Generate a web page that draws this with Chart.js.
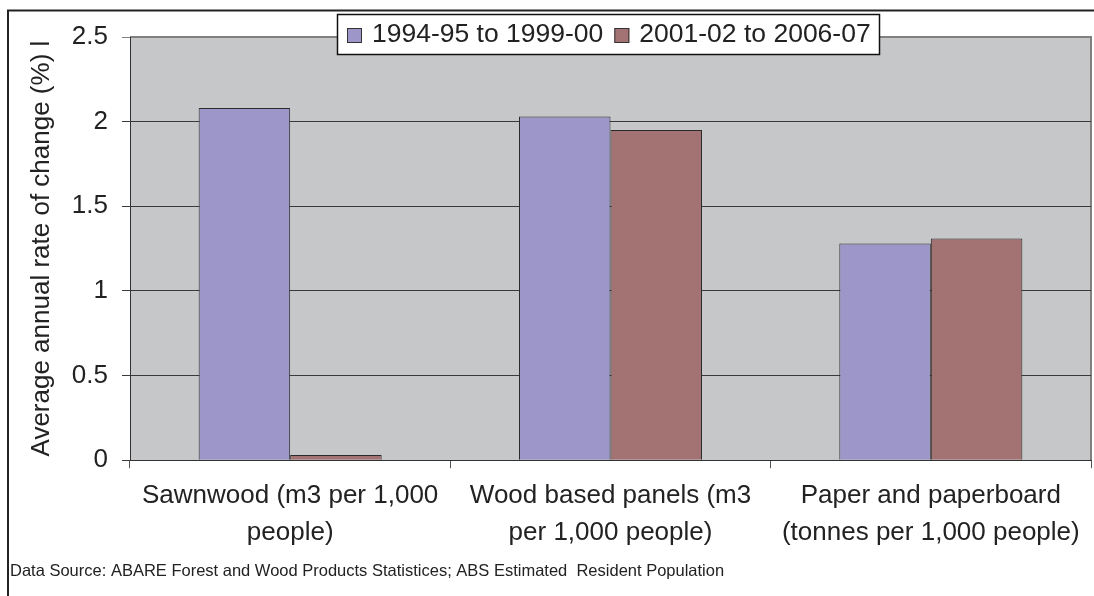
<!DOCTYPE html>
<html>
<head>
<meta charset="utf-8">
<script src="https://cdn.jsdelivr.net/npm/chart.js@4.4.1/dist/chart.umd.min.js"></script>
<style>
  html, body { margin: 0; padding: 0; background: #fff; overflow: hidden; }
  #wrap { width: 1094px; height: 596px; position: relative; }
</style>
</head>
<body>
<div id="wrap"><canvas id="woodChart"></canvas></div>
<script>
// categories (multi-line labels as drawn under the axis)
const categories = [
    ['Sawnwood (m3 per 1,000', 'people)'],
    ['Wood based panels (m3', 'per 1,000 people)'],
    ['Paper and paperboard', '(tonnes per 1,000 people)']
];
const seriesNames = ['1994-95 to 1999-00', '2001-02 to 2006-07'];
const period1 = [2.08, 2.03, 1.28];
const period2 = [0.03, 1.95, 1.31];
const yTicks = [0, 0.5, 1, 1.5, 2, 2.5];

const FONT = 'Arial, "Liberation Sans", sans-serif';

// grey plot area + outer frame
const backdrop = {
    id: 'backdrop',
    beforeDraw(chart) {
        const { ctx, chartArea: a } = chart;
        ctx.save();
        ctx.fillStyle = '#fff';
        ctx.fillRect(0, 0, chart.width, chart.height);
        ctx.strokeStyle = '#222';
        ctx.lineWidth = 2;
        ctx.strokeRect(8, 10.5, 2000, 2000);
        ctx.fillStyle = '#c6c7c9';
        ctx.fillRect(a.left, a.top, a.right - a.left, a.bottom - a.top);
        ctx.strokeStyle = '#808080';
        ctx.lineWidth = 2;
        ctx.beginPath();
        ctx.moveTo(a.left, a.top);
        ctx.lineTo(a.right, a.top);
        ctx.lineTo(a.right, a.bottom);
        ctx.stroke();
        ctx.restore();
    }
};

// boxed legend floating over the top of the plot
const boxLegend = {
    id: 'boxLegend',
    afterDraw(chart) {
        const ctx = chart.ctx;
        const boxL = 337, boxT = 14, boxR = 879, boxB = 54;
        ctx.save();
        ctx.fillStyle = '#fff';
        ctx.fillRect(boxL, boxT, boxR - boxL, boxB - boxT);
        ctx.strokeStyle = '#111';
        ctx.lineWidth = 1.5;
        ctx.strokeRect(boxL + 0.5, boxT + 0.5, boxR - boxL, boxB - boxT);
        ctx.font = '26.5px ' + FONT;
        ctx.textBaseline = 'middle';
        let x = boxL + 10;
        const midY = (boxT + boxB) / 2 + 1;
        chart.data.datasets.forEach(ds => {
            ctx.fillStyle = ds.backgroundColor;
            ctx.fillRect(x, midY - 7, 15, 15);
            ctx.strokeStyle = '#333';
            ctx.lineWidth = 1;
            ctx.strokeRect(x + 0.5, midY - 6.5, 14, 14);
            ctx.fillStyle = '#222';
            ctx.fillText(ds.label, x + 25, midY);
            x += 25 + ctx.measureText(ds.label).width + 11;
        });
        ctx.restore();
    }
};

const ctx = document.getElementById('woodChart').getContext('2d');
new Chart(ctx, {
    type: 'bar',
    data: {
        labels: categories,
        datasets: [{
            label: seriesNames[0],
            data: period1,
            backgroundColor: '#9c97c8',
            borderColor: '#2a2a2a',
            borderWidth: 1
        }, {
            label: seriesNames[1],
            data: period2,
            backgroundColor: '#a37374',
            borderColor: '#2a2a2a',
            borderWidth: 1
        }]
    },
    options: {
        responsive: true,
        maintainAspectRatio: false,
        animation: false,
        layout: { padding: { top: 37, right: 3, bottom: 0, left: 10 } },
        datasets: {
            bar: { categoryPercentage: 2 / 3.5, barPercentage: 1 }
        },
        plugins: {
            legend: { display: false },
            tooltip: { enabled: false },
            title: {
                display: true,
                position: 'bottom',
                align: 'start',
                text: 'Data Source: ABARE Forest and Wood Products Statistices; ABS Estimated  Resident Population',
                color: '#222',
                font: { family: FONT, size: 16.5, weight: 'normal', lineHeight: 1.2 },
                padding: { top: 0, bottom: 15 }
            }
        },
        scales: {
            x: {
                offset: true,
                grid: {
                    offset: true,
                    drawOnChartArea: false,
                    tickLength: 8,
                    color: '#555'
                },
                border: { color: '#333', width: 1 },
                ticks: {
                    color: '#222',
                    maxRotation: 0,
                    minRotation: 0,
                    autoSkip: false,
                    padding: 9,
                    font: { family: FONT, size: 26, lineHeight: 1.42 }
                },
                afterFit(scale) { scale.height = 101; }
            },
            y: {
                min: 0,
                max: 2.5,
                afterBuildTicks(scale) {
                    scale.ticks = yTicks.map(v => ({ value: v }));
                },
                grid: {
                    tickLength: 8,
                    color: c => (c.tick && c.tick.value === 2.5) ? '#808080' : '#3a3a3a',
                    lineWidth: 1
                },
                border: { color: '#333', width: 1 },
                ticks: {
                    color: '#222',
                    padding: 14,
                    font: { family: FONT, size: 26 },
                    callback: v => String(v)
                },
                title: {
                    display: true,
                    text: 'Average annual rate of change (%) l',
                    color: '#222',
                    font: { family: FONT, size: 26, lineHeight: 1.2 },
                    padding: { top: 16, bottom: 0 }
                },
                afterFit(scale) { scale.width = 120; }
            }
        }
    },
    plugins: [backdrop, boxLegend]
});
</script>
</body>
</html>
